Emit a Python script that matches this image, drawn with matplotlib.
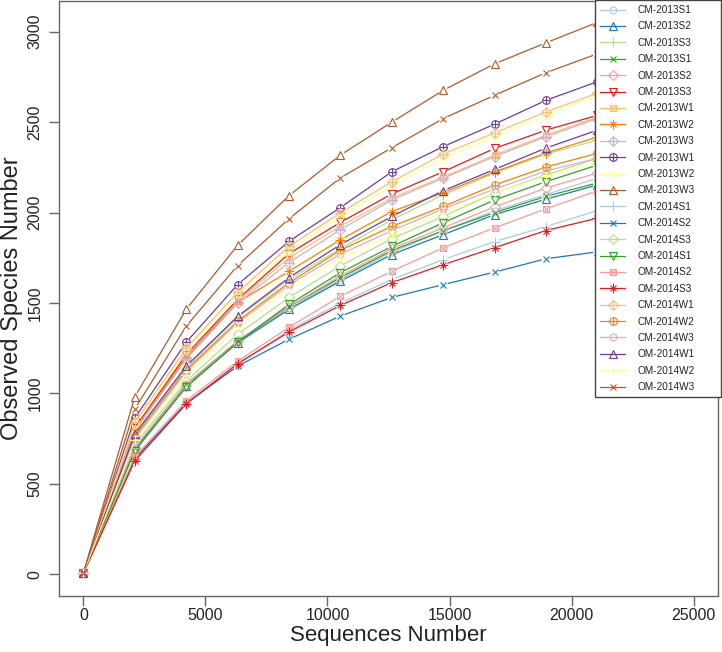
import numpy as np
import matplotlib
matplotlib.use('Agg')
from matplotlib import pyplot as plt
from matplotlib.lines import Line2D
from matplotlib.collections import LineCollection

plt.rcParams['font.family'] = ['Liberation Sans', 'DejaVu Sans']

seqs = [0, 2106, 4212, 6318, 8424, 10530, 12636, 14742, 16848, 18954, 21060]

names = ['CM-2013S1', 'CM-2013S2', 'CM-2013S3', 'OM-2013S1', 'OM-2013S2', 'OM-2013S3',
         'CM-2013W1', 'CM-2013W2', 'CM-2013W3', 'OM-2013W1', 'OM-2013W2', 'OM-2013W3',
         'CM-2014S1', 'CM-2014S2', 'CM-2014S3', 'OM-2014S1', 'OM-2014S2', 'OM-2014S3',
         'CM-2014W1', 'CM-2014W2', 'CM-2014W3', 'OM-2014W1', 'OM-2014W2', 'OM-2014W3']

observed = {
    'CM-2013S1': [8, 695, 1040, 1285, 1470, 1630, 1780, 1900, 2010, 2100, 2190],
    'CM-2013S2': [8, 690, 1040, 1280, 1465, 1621, 1768, 1878, 1989, 2074, 2153],
    'CM-2013S3': [8, 770, 1140, 1420, 1630, 1800, 1960, 2098, 2219, 2324, 2400],
    'OM-2013S1': [8, 700, 1050, 1290, 1480, 1640, 1790, 1900, 2000, 2090, 2164],
    'OM-2013S2': [8, 700, 1045, 1290, 1480, 1650, 1800, 1916, 2032, 2136, 2219],
    'OM-2013S3': [8, 810, 1215, 1520, 1773, 1946, 2103, 2226, 2355, 2456, 2538],
    'CM-2013W1': [8, 800, 1200, 1510, 1750, 1925, 2080, 2197, 2318, 2428, 2528],
    'CM-2013W2': [8, 800, 1200, 1503, 1676, 1850, 2006, 2110, 2225, 2330, 2418],
    'CM-2013W3': [8, 795, 1190, 1500, 1724, 1905, 2070, 2190, 2310, 2420, 2520],
    'OM-2013W1': [8, 864, 1283, 1602, 1841, 2028, 2226, 2365, 2489, 2621, 2724],
    'OM-2013W2': [8, 830, 1240, 1550, 1790, 1980, 2150, 2300, 2420, 2540, 2650],
    'OM-2013W3': [8, 982, 1465, 1819, 2094, 2318, 2500, 2676, 2823, 2939, 3052],
    'CM-2014S1': [8, 640, 950, 1160, 1350, 1500, 1630, 1740, 1840, 1923, 2011],
    'CM-2014S2': [8, 640, 945, 1151, 1300, 1428, 1531, 1602, 1671, 1745, 1783],
    'CM-2014S3': [8, 720, 1068, 1327, 1531, 1705, 1856, 1979, 2109, 2208, 2300],
    'OM-2014S1': [8, 683, 1035, 1283, 1492, 1668, 1813, 1944, 2070, 2171, 2263],
    'OM-2014S2': [8, 650, 960, 1178, 1366, 1538, 1676, 1806, 1916, 2021, 2121],
    'OM-2014S3': [8, 628, 942, 1165, 1340, 1487, 1613, 1712, 1806, 1901, 1969],
    'CM-2014W1': [8, 840, 1250, 1560, 1813, 1999, 2171, 2324, 2441, 2557, 2661],
    'CM-2014W2': [8, 760, 1130, 1400, 1613, 1792, 1924, 2034, 2153, 2252, 2328],
    'CM-2014W3': [8, 750, 1120, 1390, 1600, 1770, 1900, 2020, 2130, 2230, 2300],
    'OM-2014W1': [8, 776, 1151, 1426, 1641, 1823, 1979, 2121, 2239, 2357, 2456],
    'OM-2014W2': [8, 740, 1100, 1370, 1580, 1750, 1880, 2000, 2110, 2200, 2280],
    'OM-2014W3': [8, 914, 1372, 1707, 1966, 2192, 2359, 2520, 2649, 2774, 2878],
}

# RColorBrewer "Paired", used twice
paired = ['#A6CEE3', '#1F78B4', '#B2DF8A', '#33A02C', '#FB9A99', '#E31A1C',
          '#FDBF6F', '#FF7F00', '#CAB2D6', '#6A3D9A', '#FFFF99', '#B15928']
colors = paired + paired

# R pch 1..10 cycling, built from matplotlib markers
pch_shapes = {
    1: [('o', 5.0)],
    2: [('^', 6.0)],
    3: [('+', 7.0)],
    4: [('x', 5.0)],
    5: [('D', 5.0)],
    6: [('v', 6.0)],
    7: [('s', 5.0), ('x', 5.0)],
    8: [('+', 7.0), ('x', 5.0)],
    9: [('D', 5.0), ('+', 7.0)],
    10: [('o', 5.5), ('+', 5.5)],
}
pch = [(i % 10) + 1 for i in range(len(names))]

GAP = 4.5  # px left open around each point (R type = "b")

fig = plt.figure(figsize=(7.22, 6.52), dpi=100)
ax = fig.add_axes([59 / 722, 1 - 596 / 652, (718 - 59) / 722, (596 - 1) / 652])
ax.set_xlim(-1000, 26000)
ax.set_ylim(-120, 3170)

for name, c, p in zip(names, colors, pch):
    vals = observed[name]
    pts = ax.transData.transform(np.column_stack([seqs, vals]))
    segs = []
    for p0, p1 in zip(pts[:-1], pts[1:]):
        d = p1 - p0
        L = np.hypot(d[0], d[1])
        if L <= 2 * GAP:
            continue
        u = d / L
        segs.append(ax.transData.inverted().transform([p0 + u * GAP, p1 - u * GAP]))
    ax.add_collection(LineCollection(segs, colors=c, linewidths=0.9))
    for m, s in pch_shapes[p]:
        ax.plot(seqs, vals, linestyle='none', marker=m, markersize=s,
                markerfacecolor='none', markeredgecolor=c, markeredgewidth=0.8)

handles = []
for name, c, p in zip(names, colors, pch):
    parts = []
    for k, (m, s) in enumerate(pch_shapes[p]):
        parts.append(Line2D([], [], color=c, lw=0.9 if k == 0 else 0, marker=m, markersize=s,
                            markerfacecolor='none', markeredgecolor=c, markeredgewidth=0.8))
    handles.append(tuple(parts))

leg = ax.legend(handles, names, loc='upper left', mode='expand',
                bbox_to_anchor=(595 / 722, 0, 126 / 722, 1.0),
                bbox_transform=fig.transFigure, borderaxespad=0, fontsize=7.2,
                labelspacing=0.64, handlelength=2.5, handletextpad=1.2, borderpad=0.5,
                fancybox=False, framealpha=1, edgecolor='#444444')
leg.get_frame().set_linewidth(1.0)
for t in leg.get_texts():
    t.set_color('#222222')

ax.set_xticks([0, 5000, 10000, 15000, 20000, 25000])
ax.set_yticks([0, 500, 1000, 1500, 2000, 2500, 3000])
for lab in ax.get_yticklabels():
    lab.set_rotation(90)
    lab.set_va('center')
ax.tick_params(direction='out', length=7, width=1, color='#666666', labelsize=11.5,
               labelcolor='#222222')
ax.tick_params(axis='x', pad=2)
ax.tick_params(axis='y', pad=5)
for sp in ax.spines.values():
    sp.set_color('#666666')
    sp.set_linewidth(1.0)

ax.set_xlabel('Sequences Number', fontsize=16, color='#222222', labelpad=1)
ax.set_ylabel('Observed Species Number', fontsize=17, color='#222222', labelpad=3)

fig.savefig('out.png', dpi=100)
